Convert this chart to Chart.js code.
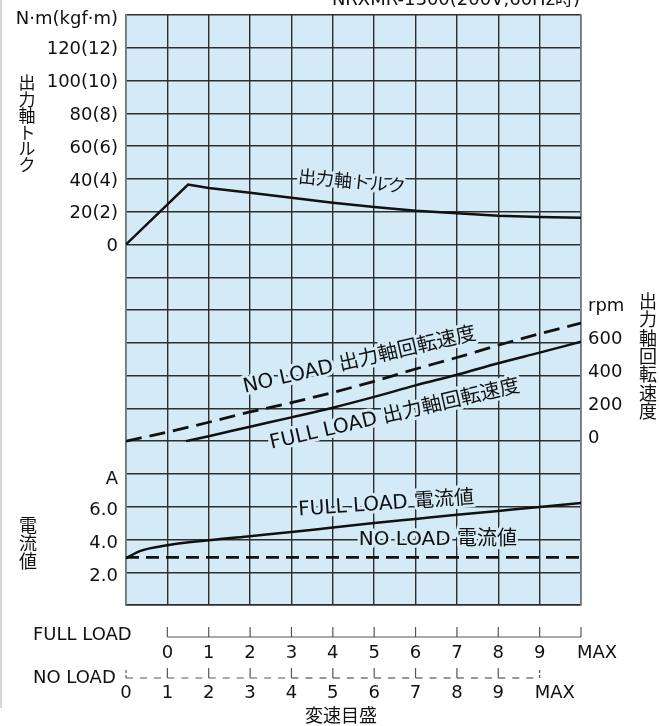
<!DOCTYPE html>
<html lang="ja">
  <head>
    <meta charset="UTF-8" />
    <meta name="viewport" content="width=device-width, initial-scale=1.0" />
    <title>NRXMR-1300 特性</title>
    <style>
      body {
        margin: 0;
        background: #fff;
      }
      .container {
        position: relative;
        width: 659px;
        height: 726px;
      }
    </style>
    <script src="https://cdn.jsdelivr.net/npm/chart.js"></script>
  </head>
  <body>
    <div class="container">
      <canvas id="chart"></canvas>
    </div>
    <script>
      // 目盛位置: NO LOAD dial 0..9 = 0..9, NO LOAD MAX = 10, FULL LOAD MAX = 11
      const torqueX = [0, 1.5, 2, 3, 4, 5, 6, 7, 8, 9, 10, 11];
      const torqueNm = [0, 36.5, 34.5, 31.5, 28.5, 25.5, 22.9, 20.5, 19, 17.5, 16.8, 16.3];

      const rpmNoLoadX = [0, 1, 2, 3, 4, 5, 6, 7, 8, 9, 10, 11];
      const rpmNoLoad = [0, 55, 115, 178, 235, 297, 365, 440, 510, 585, 655, 720];
      const rpmFullLoadX = [1.45, 2, 3, 4, 5, 6, 7, 8, 9, 10, 11];
      const rpmFullLoad = [0, 30, 88, 145, 204, 270, 340, 405, 475, 540, 606];

      const ampFullLoadX = [0, 0.35, 1, 2, 3, 4, 5, 6, 7, 8, 9, 10, 11];
      const ampFullLoad = [2.85, 3.3, 3.65, 3.95, 4.2, 4.45, 4.73, 5.0, 5.25, 5.5, 5.74, 5.98, 6.22];
      const ampNoLoadX = [0, 1, 2, 3, 4, 5, 6, 7, 8, 9, 10, 11];
      const ampNoLoad = [2.9, 2.9, 2.9, 2.9, 2.9, 2.9, 2.9, 2.9, 2.9, 2.9, 2.9, 2.9];

      // tick labels
      const torqueTicks = [0, 20, 40, 60, 80, 100, 120];
      const torqueTickLabels = ["0", "20(2)", "40(4)", "60(6)", "80(8)", "100(10)", "120(12)"];
      const rpmTicks = [0, 200, 400, 600];
      const ampTicks = [2.0, 4.0, 6.0];
      const fullLoadDial = ["0", "1", "2", "3", "4", "5", "6", "7", "8", "9", "MAX"];
      const noLoadDial = ["0", "1", "2", "3", "4", "5", "6", "7", "8", "9", "MAX"];

      const PANEL = "#d4eaf7";
      const GRID = "#2e2e2e";
      const INK = "#111";
      const FONT = '"DejaVu Sans", "Noto Sans CJK JP", sans-serif';
      const JFONT = '"Noto Sans CJK JP", sans-serif';

      const pts = (xs, ys) => xs.map((x, i) => ({ x: x, y: ys[i] }));

      const panelPlugin = {
        id: "panel",
        beforeDraw(chart) {
          const { ctx, chartArea: a } = chart;
          ctx.save();
          ctx.fillStyle = PANEL;
          ctx.fillRect(a.left, a.top, a.right - a.left, a.bottom - a.top);
          // faint page edge on the left
          ctx.fillStyle = "#d6d6d6";
          ctx.fillRect(0, 0, 2, 708);
          ctx.restore();
        },
      };

      // text that sits on the curves
      const curveLabels = [
        { text: "出力軸トルク", x: 5.46, y: 37.5, axis: "yT", rot: 5.5, size: 18 },
        { text: "NO LOAD 出力軸回転速度", x: 5.65, y: 490, axis: "yS", rot: -13, size: 20 },
        { text: "FULL LOAD 出力軸回転速度", x: 6.5, y: 160, axis: "yS", rot: -13, size: 20 },
        { text: "FULL LOAD 電流値", x: 6.29, y: 6.15, axis: "yA", rot: -4, size: 20 },
        { text: "NO LOAD 電流値", x: 7.54, y: 3.97, axis: "yA", rot: 0, size: 20 },
      ];

      const vertical = (ctx, str, x, y0, step) => {
        [...str].forEach((ch, i) => ctx.fillText(ch, x, y0 + i * step));
      };

      const textPlugin = {
        id: "texts",
        afterDatasetsDraw(chart) {
          const { ctx, chartArea: a, scales: s } = chart;
          ctx.save();

          // curve labels with a halo
          curveLabels.forEach((l) => {
            const px = s.x.getPixelForValue(l.x);
            const py = s[l.axis].getPixelForValue(l.y);
            ctx.save();
            ctx.translate(px, py);
            ctx.rotate((l.rot * Math.PI) / 180);
            ctx.font = l.size + "px " + FONT;
            ctx.textAlign = "center";
            ctx.textBaseline = "middle";
            ctx.lineJoin = "round";
            ctx.lineWidth = 6;
            ctx.strokeStyle = PANEL;
            ctx.strokeText(l.text, 0, 0);
            ctx.fillStyle = INK;
            ctx.fillText(l.text, 0, 0);
            ctx.restore();
          });

          ctx.fillStyle = INK;
          ctx.font = "18px " + FONT;
          ctx.textBaseline = "middle";

          // left: torque + current ticks
          ctx.textAlign = "right";
          const lx = a.left - 8;
          torqueTicks.forEach((v, i) =>
            ctx.fillText(torqueTickLabels[i], lx, s.yT.getPixelForValue(v) + 2)
          );
          ctx.fillText("N·m(kgf·m)", lx, s.yT.getPixelForValue(torqueTicks[torqueTicks.length - 1] + 20) + 4);
          ampTicks.forEach((v) => ctx.fillText(v.toFixed(1), lx, s.yA.getPixelForValue(v) + 4));
          ctx.fillText("A", lx, s.yA.getPixelForValue(ampTicks[ampTicks.length - 1] + 2) + 5);

          // right: rpm ticks
          ctx.textAlign = "left";
          const rx = a.right + 7;
          rpmTicks.forEach((v) => ctx.fillText(String(v), rx, s.yS.getPixelForValue(v) - 3));
          ctx.fillText("rpm", rx, s.yS.getPixelForValue(rpmTicks[rpmTicks.length - 1] + 200) - 4);

          // axis titles, written top to bottom
          ctx.textAlign = "center";
          ctx.font = "17px " + JFONT;
          vertical(ctx, "出力軸トルク", 27, 83, 16.4);
          ctx.font = "18px " + JFONT;
          vertical(ctx, "電流値", 28, 525, 18);
          vertical(ctx, "出力軸回転速度", 648, 301, 18.4);

          // model title, cut by the top edge
          ctx.font = "18px " + FONT;
          ctx.textBaseline = "alphabetic";
          ctx.fillText("NRXMR-1300(200V,60Hz時)", 456, 5);

          // dial scales under the panel
          const fy = a.bottom + 32;
          const ny = a.bottom + 73;
          ctx.strokeStyle = "#555";
          ctx.lineWidth = 1.2;

          ctx.beginPath();
          ctx.moveTo(s.x.getPixelForValue(1), fy);
          ctx.lineTo(s.x.getPixelForValue(11), fy);
          for (let i = 1; i <= 11; i++) {
            const px = s.x.getPixelForValue(i);
            ctx.moveTo(px, fy);
            ctx.lineTo(px, fy - 10);
          }
          ctx.stroke();

          for (let i = 0; i < 10; i++) {
            const p0 = s.x.getPixelForValue(i);
            const p1 = s.x.getPixelForValue(i + 1);
            ctx.setLineDash([7, 7]);
            ctx.beginPath();
            ctx.moveTo(p0, ny);
            ctx.lineTo(p1, ny);
            ctx.stroke();
          }
          for (let i = 0; i <= 10; i++) {
            const px = s.x.getPixelForValue(i);
            ctx.setLineDash(i === 0 || i === 10 ? [3, 2] : []);
            ctx.beginPath();
            ctx.moveTo(px, ny);
            ctx.lineTo(px, ny - 10);
            ctx.stroke();
          }
          ctx.setLineDash([]);

          ctx.fillStyle = INK;
          ctx.font = "18px " + FONT;
          ctx.textBaseline = "middle";
          fullLoadDial.forEach((t, i) => {
            const px = s.x.getPixelForValue(i + 1);
            ctx.textAlign = t === "MAX" ? "left" : "center";
            ctx.fillText(t, t === "MAX" ? px - 4 : px, fy + 16);
          });
          noLoadDial.forEach((t, i) => {
            const px = s.x.getPixelForValue(i);
            ctx.textAlign = t === "MAX" ? "left" : "center";
            ctx.fillText(t, t === "MAX" ? px - 5 : px, ny + 15);
          });

          ctx.textAlign = "left";
          ctx.fillText("FULL LOAD", 33, fy - 2);
          ctx.fillText("NO LOAD", 33, ny);
          ctx.textAlign = "center";
          ctx.fillText("変速目盛", s.x.getPixelForValue(5.2), a.bottom + 112);

          ctx.restore();
        },
      };

      const line = (data, axis, dash, smooth) => ({
        data: data,
        yAxisID: axis,
        borderColor: INK,
        borderWidth: dash.length ? 2.8 : 2.5,
        borderDash: dash,
        pointRadius: 0,
        fill: false,
        tension: 0,
        cubicInterpolationMode: smooth ? "monotone" : "default",
      });

      const gridOpts = { color: GRID, lineWidth: 1.4, drawTicks: false };

      new Chart(document.getElementById("chart"), {
        type: "line",
        data: {
          datasets: [
            line(pts(torqueX, torqueNm), "yT", [], false),
            line(pts(rpmNoLoadX, rpmNoLoad), "yS", [16, 8], true),
            line(pts(rpmFullLoadX, rpmFullLoad), "yS", [], true),
            line(pts(ampFullLoadX, ampFullLoad), "yA", [], true),
            line(pts(ampNoLoadX, ampNoLoad), "yA", [13, 7], false),
          ],
        },
        options: {
          responsive: true,
          maintainAspectRatio: false,
          animation: false,
          layout: { padding: { top: 15, left: 0, right: 0, bottom: 0 } },
          plugins: {
            legend: { display: false },
            tooltip: { enabled: false },
          },
          scales: {
            x: {
              type: "linear",
              min: 0,
              max: 11,
              ticks: { stepSize: 1, display: false },
              grid: gridOpts,
              border: { color: GRID, width: 1.4 },
              afterFit(scale) {
                scale.height = 121;
              },
            },
            y: {
              type: "linear",
              min: 0,
              max: 18,
              ticks: { stepSize: 1, display: false },
              grid: gridOpts,
              border: { color: "#777", width: 1.6 },
              afterFit(scale) {
                scale.width = 126;
              },
            },
            yR: {
              type: "linear",
              position: "right",
              min: 0,
              max: 18,
              ticks: { display: false },
              grid: { display: false, drawTicks: false },
              border: { color: "#777", width: 1.6 },
              afterFit(scale) {
                scale.width = 78;
              },
            },
            // physical scales laid over the same grid
            yT: { display: false, min: -220, max: 140 },
            yS: { display: false, min: -1000, max: 2600 },
            yA: { display: false, min: 0, max: 36 },
          },
        },
        plugins: [panelPlugin, textPlugin],
      });
    </script>
  </body>
</html>
